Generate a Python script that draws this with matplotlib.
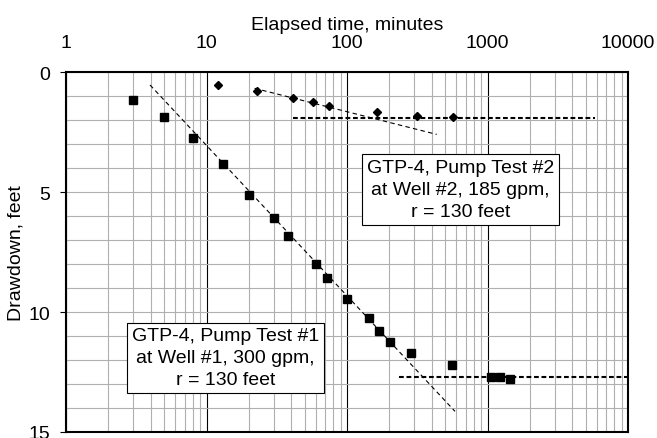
import matplotlib
matplotlib.use('Agg')
import matplotlib.pyplot as plt
from matplotlib.ticker import FixedLocator, FixedFormatter, LogLocator, NullFormatter

plt.rcParams['font.family'] = ['Liberation Sans', 'DejaVu Sans']
plt.rcParams['font.size'] = 14

# Pump test #1 (squares)
t1 = [3, 5, 8, 13, 20, 30, 38, 60, 72, 100, 143, 168, 202, 287, 559, 1054, 1228, 1453]
s1 = [1.15, 1.86, 2.76, 3.83, 5.11, 6.10, 6.82, 8.01, 8.60, 9.45, 10.25, 10.79, 11.24,
      11.70, 12.21, 12.71, 12.71, 12.78]

# Pump test #2 (diamonds)
t2 = [12, 23, 41, 57, 75, 164, 316, 565]
s2 = [0.54, 0.78, 1.07, 1.25, 1.40, 1.68, 1.82, 1.86]

# straight-line fits and stabilised levels
fit1_t = [3.96, 587]
fit1_s = [0.54, 14.14]
fit2_t = [22, 435]
fit2_s = [0.68, 2.6]
flat1_t = [234, 10000]
flat1_s = [12.71, 12.71]
flat2_t = [41, 5820]
flat2_s = [1.93, 1.93]

xticks = [1, 10, 100, 1000, 10000]
xticklabels = ['1', '10', '100', '1000', '10000']
yticks = [0, 5, 10, 15]

label1 = 'GTP-4, Pump Test #1\nat Well #1, 300 gpm,\nr = 130 feet'
label2 = 'GTP-4, Pump Test #2\nat Well #2, 185 gpm,\nr = 130 feet'

fig = plt.figure(figsize=(6.57, 4.39), dpi=100)
ax = fig.add_axes([66 / 657, 1 - 433 / 439, 562 / 657, 360 / 439])

ax.set_xscale('log')
ax.set_xlim(1, 10000)
ax.set_ylim(15, 0)

# grid
ax.xaxis.set_major_locator(FixedLocator(xticks))
ax.xaxis.set_major_formatter(FixedFormatter(xticklabels))
ax.xaxis.set_minor_locator(LogLocator(base=10, subs=range(2, 10)))
ax.xaxis.set_minor_formatter(NullFormatter())
ax.set_yticks(yticks)
ax.set_yticks(range(0, 16), minor=True)
ax.grid(True, which='minor', axis='x', color='#b0b0b0', lw=0.8)
ax.grid(True, which='major', axis='x', color='black', lw=0.8)
ax.grid(True, which='both', axis='y', color='#b0b0b0', lw=0.8)
ax.set_axisbelow(True)

ax.xaxis.tick_top()
ax.xaxis.set_label_position('top')
ax.tick_params(axis='x', which='both', length=0, pad=15)
ax.tick_params(axis='y', which='major', length=4.5, width=0.8, pad=7, direction='out')
ax.tick_params(axis='y', which='minor', length=0)
for sp in ax.spines.values():
    sp.set_linewidth(1.5)

ax.set_xlabel('Elapsed time, minutes', labelpad=4)
ax.set_ylabel('Drawdown, feet', labelpad=3)

# fits
ax.plot(fit1_t, fit1_s, color='black', lw=0.8, ls=(0, (4, 3)))
ax.plot(fit2_t, fit2_s, color='black', lw=0.8, ls=(0, (4, 3)))
ax.plot(flat1_t, flat1_s, color='black', lw=1.5, ls=(0, (2.3, 1.3)))
ax.plot(flat2_t, flat2_s, color='black', lw=1.5, ls=(0, (2.3, 1.3)))

# data
ax.plot(t1, s1, ls='none', marker='s', ms=5.3, color='black')
ax.plot(t2, s2, ls='none', marker='D', ms=4.2, color='black')

box = dict(boxstyle='square,pad=0.25', facecolor='white', edgecolor='black', lw=0.8)
ax.text(13.6, 11.91, label1, ha='center', va='center', bbox=box, linespacing=1.38)
ax.text(640, 4.89, label2, ha='center', va='center', bbox=box, linespacing=1.38)

fig.savefig('out.png', dpi=100)
